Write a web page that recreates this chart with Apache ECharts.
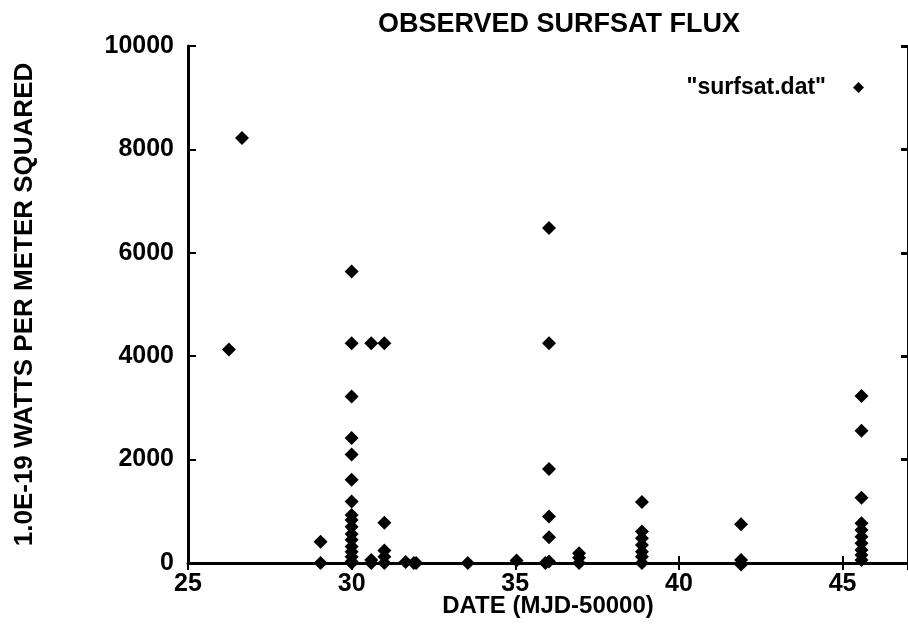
<!DOCTYPE html>
<html>
<head>
<meta charset="utf-8">
<title>Observed Surfsat Flux</title>
<script src="https://cdn.jsdelivr.net/npm/echarts@6/dist/echarts.min.js"></script>
<style>
	html, body { margin: 0; padding: 0; background: #fff; }
	#main { width: 908px; height: 636px; }
</style>
</head>
<body>
<div id="main"></div>
<script>
// observation day (MJD-50000) and flux, one entry per point
var days = [
	26.25, 26.65,
	29.05, 29.05,
	30.0, 30.0, 30.0, 30.0, 30.0, 30.0, 30.0, 30.0, 30.0, 30.0, 30.0, 30.0, 30.0, 30.0, 30.0, 30.0, 30.0,
	30.6, 30.6, 30.6,
	31.0, 31.0, 31.0, 31.0, 31.0,
	31.65, 31.9, 31.97, 33.55, 35.04, 35.92,
	36.03, 36.03, 36.03, 36.03, 36.03, 36.03,
	36.95, 36.95, 36.95,
	38.87, 38.87, 38.87, 38.87, 38.87, 38.87, 38.87,
	41.9, 41.9, 41.9,
	45.58, 45.58, 45.58, 45.58, 45.58, 45.58, 45.58, 45.58, 45.58, 45.58
];
var flux = [
	4130, 8220,
	410, 0,
	5640, 4250, 3220, 2420, 2100, 1610, 1190, 930, 830, 700, 560, 450, 320, 220, 120, 30, 0,
	4250, 60, 0,
	4250, 780, 240, 120, 0,
	20, 0, 0, 0, 50, 0,
	6480, 4250, 1820, 900, 500, 30,
	190, 100, 0,
	1180, 610, 480, 350, 220, 120, 0,
	750, 60, -30,
	3230, 2560, 1260, 770, 640, 510, 380, 250, 155, 60
];
var xTicks = [25, 47, 5];      // min, max, step
var yTicks = [0, 10000, 2000]; // min, max, step
var seriesName = '"surfsat.dat"';

var myChart = echarts.init(document.getElementById('main'));
var font = 'Liberation Sans';
var points = [];
for (var i = 0; i < days.length; i++) {
	points.push([days[i], flux[i]]);
}

var option = {
	animation: false,
	backgroundColor: '#fff',
	textStyle: { fontFamily: font, color: '#000' },
	title: {
		text: 'OBSERVED SURFSAT FLUX',
		left: 373,
		top: 6,
		textStyle: { fontFamily: font, fontSize: 27, fontWeight: 'bold', color: '#000' }
	},
	legend: {
		data: [seriesName],
		right: 39,
		top: 71,
		align: 'right',
		icon: 'diamond',
		itemWidth: 11,
		itemHeight: 11,
		textStyle: { fontFamily: font, fontSize: 23, fontWeight: 'bold', color: '#000', padding: [0, 22, 0, 0] }
	},
	grid: { left: 188, right: -4, top: 46, bottom: 73 },
	xAxis: [{
		type: 'value',
		position: 'bottom',
		min: xTicks[0],
		max: xTicks[1],
		interval: xTicks[2],
		name: 'DATE (MJD-50000)',
		nameLocation: 'middle',
		nameGap: 31,
		nameMoveOverlap: false,
		nameTextStyle: { fontFamily: font, fontSize: 24, fontWeight: 'bold', color: '#000' },
		axisLine: { lineStyle: { color: '#000', width: 3 } },
		axisTick: { inside: true, length: 7, lineStyle: { color: '#000', width: 2 } },
		axisLabel: { fontFamily: font, fontSize: 25, fontWeight: 'bold', color: '#000', margin: 9, showMaxLabel: false },
		splitLine: { show: false }
	}, {
		type: 'value',
		position: 'top',
		min: xTicks[0],
		max: xTicks[1],
		interval: xTicks[2],
		axisLine: { lineStyle: { color: '#000', width: 2 } },
		axisTick: { inside: true, length: 7, lineStyle: { color: '#000', width: 2 } },
		axisLabel: { show: false },
		splitLine: { show: false }
	}],
	yAxis: [{
		type: 'value',
		position: 'left',
		min: yTicks[0],
		max: yTicks[1],
		interval: yTicks[2],
		name: '1.0E-19 WATTS PER METER SQUARED',
		nameLocation: 'middle',
		nameGap: 150,
		nameMoveOverlap: false,
		nameTextStyle: { fontFamily: font, fontSize: 26, fontWeight: 'bold', color: '#000' },
		axisLine: { lineStyle: { color: '#000', width: 3 } },
		axisTick: { inside: true, length: 8, lineStyle: { color: '#000', width: 2 } },
		axisLabel: {
			fontFamily: font, fontSize: 25, fontWeight: 'bold', color: '#000', margin: 14,
			formatter: function(v) { return String(v); }
		},
		splitLine: { show: false }
	}, {
		type: 'value',
		position: 'right',
		min: yTicks[0],
		max: yTicks[1],
		interval: yTicks[2],
		axisLine: { show: true, lineStyle: { color: '#000', width: 2 } },
		axisTick: { inside: true, length: 7, lineStyle: { color: '#000', width: 3 } },
		axisLabel: { show: false },
		splitLine: { show: false }
	}],
	series: [{
		name: seriesName,
		type: 'scatter',
		symbol: 'diamond',
		symbolSize: 14,
		clip: false,
		itemStyle: { color: '#000', opacity: 1 },
		data: points
	}]
};
myChart.setOption(option);
</script>
</body>
</html>
